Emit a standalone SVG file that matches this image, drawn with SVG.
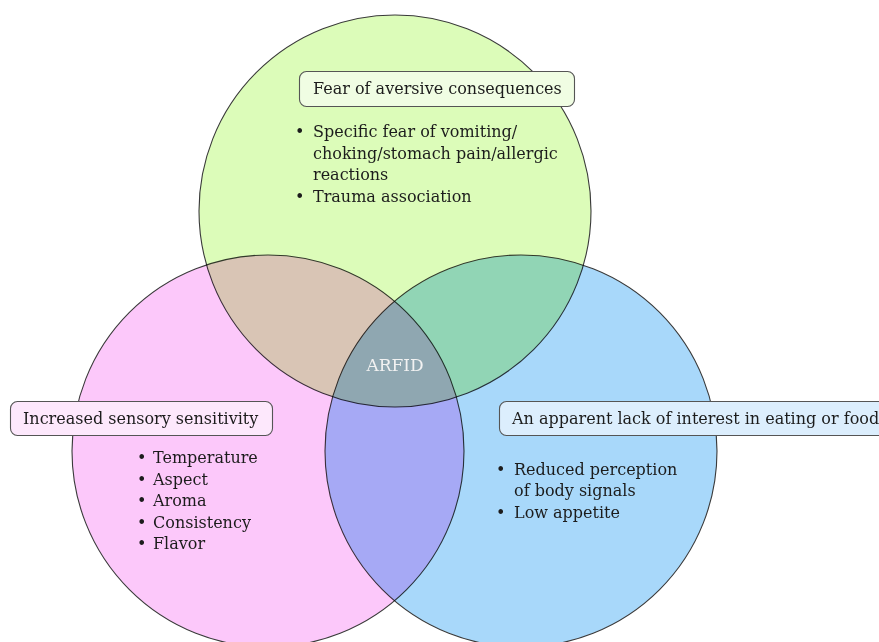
<svg xmlns="http://www.w3.org/2000/svg" width="879" height="642" viewBox="0 0 879 642">
<style>
.c{stroke:#3a3a3a;stroke-width:1.1;mix-blend-mode:multiply}
.t{font-family:"DejaVu Serif","Liberation Serif",serif;font-size:16px;fill:#1c1c1c}
.lb{stroke:#555;stroke-width:1.1}
.ar{font-family:"DejaVu Serif","Liberation Serif",serif;font-size:17px;fill:#f2f2f2}
</style>
<rect width="879" height="642" fill="#fff"/>
<g id="connectors"/>
<g id="fear">
<circle class="c" cx="395" cy="211" r="196" fill="#dcfcb9"/>
<rect class="lb" x="299.5" y="71.5" width="275" height="35" rx="7" fill="#f0fde3"/>
<text class="t" x="313" y="94">Fear of aversive consequences</text>
<text class="t" x="295" y="137">•</text>
<text class="t" x="313" y="137">Specific fear of vomiting/</text>
<text class="t" x="313" y="159">choking/stomach pain/allergic</text>
<text class="t" x="313" y="180">reactions</text>
<text class="t" x="295" y="202">•</text>
<text class="t" x="313" y="202">Trauma association</text>
</g>
<g id="sensory">
<circle class="c" cx="268" cy="451" r="196" fill="#fcc8fa"/>
<rect class="lb" x="10.5" y="401.5" width="262" height="34" rx="7" fill="#fde8fc"/>
<text class="t" x="23" y="424">Increased sensory sensitivity</text>
<text class="t" x="137" y="463">•</text>
<text class="t" x="153" y="463">Temperature</text>
<text class="t" x="137" y="485">•</text>
<text class="t" x="153" y="485">Aspect</text>
<text class="t" x="137" y="506">•</text>
<text class="t" x="153" y="506">Aroma</text>
<text class="t" x="137" y="528">•</text>
<text class="t" x="153" y="528">Consistency</text>
<text class="t" x="137" y="549">•</text>
<text class="t" x="153" y="549">Flavor</text>
</g>
<g id="interest">
<circle class="c" cx="521" cy="451" r="196" fill="#a8d8fa"/>
<rect class="lb" x="499.5" y="401.5" width="400" height="34" rx="7" fill="#dceefd"/>
<text class="t" x="512" y="424">An apparent lack of interest in eating or food</text>
<text class="t" x="496" y="475">•</text>
<text class="t" x="514" y="475">Reduced perception</text>
<text class="t" x="514" y="496">of body signals</text>
<text class="t" x="496" y="518">•</text>
<text class="t" x="514" y="518">Low appetite</text>
</g>
<g id="arfid">
<text class="ar" x="395" y="371" text-anchor="middle">ARFID</text>
</g>
</svg>
